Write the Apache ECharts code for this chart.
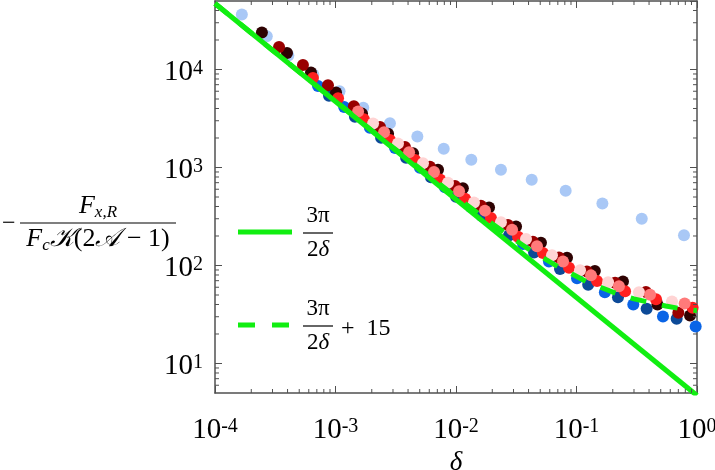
<!DOCTYPE html>
<html>
<head>
<meta charset="utf-8">
<script src="https://cdn.jsdelivr.net/npm/echarts@6/dist/echarts.min.js"></script>
<style>html,body{margin:0;padding:0;background:#fff}#c{width:715px;height:470px}</style>
</head>
<body>
<div id="c"></div>
<script>
// ---- data ----
const X_MIN = 1e-4, X_MAX = 1, Y_MIN = 5, Y_MAX = 5e4;

const lightBlueDelta = [1.67e-4, 2.69e-4, 4.06e-4, 6.54e-4, 1.08e-3, 1.70e-3, 2.83e-3, 4.78e-3, 7.91e-3, 0.0134, 0.0236, 0.0425, 0.0813, 0.164, 0.348, 0.780];
const lightBlueF     = [36400, 21900, 13900, 8890, 6010, 4070, 2830, 2070, 1550, 1200, 948, 749, 578, 429, 300, 204];

const blueDelta = [7.16e-4, 1.18e-3, 1.93e-3, 3.12e-3, 5.02e-3, 8.10e-3, 0.0133, 0.0223, 0.0360, 0.0591, 0.101, 0.172, 0.296, 0.522, 0.975];
const blueF     = [6800, 4150, 2540, 1585, 995, 628, 395, 248, 166, 110, 74, 53.4, 40.0, 30.2, 23.9];

const navyDelta = [8.83e-4, 1.45e-3, 2.39e-3, 3.85e-3, 6.20e-3, 0.0100, 0.0164, 0.0275, 0.0444, 0.0730, 0.125, 0.221, 0.382, 0.678];
const navyF     = [5390, 3290, 2015, 1260, 794, 504, 319, 202, 136, 92, 63.5, 47.5, 36.1, 28.6];

const blackDelta = [2.45e-4, 3.96e-4, 6.26e-4, 1.01e-3, 1.66e-3, 2.73e-3, 4.40e-3, 7.09e-3, 0.0114, 0.0188, 0.0315, 0.0507, 0.0834, 0.142, 0.243, 0.47, 0.875];
const blackF     = [23800, 14700, 9340, 5810, 3546, 2215, 1400, 950, 615, 391, 250, 171, 120, 87.7, 68.6, 40, 30.9];

const darkRedDelta = [3.40e-4, 5.37e-4, 8.66e-4, 1.42e-3, 2.34e-3, 3.77e-3, 6.08e-3, 9.81e-3, 0.0161, 0.0270, 0.0435, 0.0716, 0.122, 0.209, 0.377, 0.70];
const darkRedF     = [17000, 11100, 6920, 4220, 2585, 1617, 1018, 646, 408, 259, 175, 121, 86.7, 66.5, 53.7, 33];

const redDelta = [6.5e-4, 1.05e-3, 1.72e-3, 2.83e-3, 4.57e-3, 7.37e-3, 0.0119, 0.0195, 0.0327, 0.0527, 0.0867, 0.148, 0.253, 0.457, 0.92];
const redF     = [8180, 5090, 3110, 1905, 1194, 753, 480, 305, 196, 134, 94.9, 69.6, 54.7, 45.3, 37];

const pinkDelta = [2.05e-3, 3.30e-3, 5.32e-3, 8.58e-3, 0.0141, 0.0236, 0.0381, 0.0626, 0.107, 0.183, 0.330, 0.620];
const pinkF     = [2815, 1759, 1105, 699, 440, 277, 186, 127, 89.4, 67.4, 53.4, 43];

const salmonDelta = [1.54e-3, 2.53e-3, 4.08e-3, 6.57e-3, 0.0106, 0.0174, 0.0292, 0.0470, 0.0773, 0.132, 0.225, 0.408, 0.79];
const salmonF     = [3734, 2288, 1432, 902, 573, 363, 231, 157, 110, 79.3, 61.5, 50.2, 41];

// 3pi/(2 delta)
const solidDelta = [1e-4, 1];
const solidF     = [47120, 4.71];
// 3pi/(2 delta) + 15 curve as drawn
const dashDelta = [1e-4, 3e-4, 1e-3, 3e-3, 0.01, 0.02, 0.03, 0.0425, 0.0716, 0.123, 0.218, 0.3, 0.407, 0.55, 0.746, 1];
const dashF     = [47150, 15740, 4742, 1600, 501, 266, 187, 140, 96, 67.6, 51.4, 45.7, 41.9, 38.6, 36.1, 34.7];

// minor tick positions
const minorMult = [2, 3, 4, 5, 6, 7, 8, 9];
const xDecades = [1e-4, 1e-3, 1e-2, 1e-1];
const yDecades = [1, 10, 100, 1000, 10000];

// ---- styling ----
const GREEN = '#11ee11';
const AXIS = '#505050';
const SERIF = "'Liberation Serif', 'DejaVu Serif', serif";

const xMinor = [];
xDecades.forEach(d => minorMult.forEach(m => xMinor.push(m * d)));
const yMinor = [];
yDecades.forEach(d => minorMult.forEach(m => { const v = m * d; if (v > Y_MIN && v < Y_MAX) yMinor.push(v); }));

const zip = (a, b) => a.map((v, i) => [v, b[i]]);

const rich = {
  b: { fontFamily: SERIF, fontSize: 29, lineHeight: 34, padding: [6, 0, 0, 0], verticalAlign: 'bottom', color: '#000' },
  s: { fontFamily: SERIF, fontSize: 20, lineHeight: 18, padding: [6, 0, 0, 0], verticalAlign: 'top', color: '#000' }
};
const fmt = v => '{b|10}{s|' + Math.round(Math.log10(v)) + '}';

function scatter(name, d, f, color, z) {
  return { name, type: 'scatter', data: zip(d, f), symbolSize: 12, clip: false, z,
    itemStyle: { color, opacity: 1 }, silent: true };
}

function minorX(params, api) {
  const v = api.value(0);
  const b = api.coord([v, Y_MIN]), t = api.coord([v, Y_MAX]);
  return { type: 'group', children: [
    { type: 'line', shape: { x1: b[0], y1: b[1], x2: b[0], y2: b[1] - 4 }, style: { stroke: AXIS, lineWidth: 1 } },
    { type: 'line', shape: { x1: t[0], y1: t[1], x2: t[0], y2: t[1] + 4 }, style: { stroke: AXIS, lineWidth: 1 } }
  ] };
}
function minorY(params, api) {
  const v = api.value(1);
  const l = api.coord([X_MIN, v]), r = api.coord([X_MAX, v]);
  return { type: 'group', children: [
    { type: 'line', shape: { x1: l[0], y1: l[1], x2: l[0] + 4, y2: l[1] }, style: { stroke: AXIS, lineWidth: 1 } },
    { type: 'line', shape: { x1: r[0], y1: r[1], x2: r[0] - 4, y2: r[1] }, style: { stroke: AXIS, lineWidth: 1 } }
  ] };
}

const axisCommon = {
  type: 'log', logBase: 10,
  axisLine: { show: true, onZero: false, lineStyle: { color: AXIS, width: 1.5 } },
  axisTick: { show: true, inside: true, length: 7, lineStyle: { color: AXIS, width: 1 } },
  minorTick: { show: false },
  splitLine: { show: false }
};

const chart = echarts.init(document.getElementById('c'), null, { renderer: 'canvas' });
chart.setOption({
  animation: false,
  backgroundColor: '#fff',
  grid: { left: 215, right: 18, top: 1, bottom: 77, containLabel: false, outerBoundsMode: 'none' },
  xAxis: [
    Object.assign({}, axisCommon, { position: 'bottom', min: X_MIN, max: X_MAX,
      axisLabel: { show: true, margin: 18, formatter: fmt, rich },
      name: 'δ', nameLocation: 'middle', nameGap: 54,
      nameTextStyle: { fontFamily: SERIF, fontStyle: 'italic', fontSize: 27, color: '#000' } }),
    Object.assign({}, axisCommon, { position: 'top', min: X_MIN, max: X_MAX, axisLabel: { show: false } })
  ],
  yAxis: [
    Object.assign({}, axisCommon, { position: 'left', min: Y_MIN, max: Y_MAX,
      axisLabel: { show: true, margin: 12, formatter: fmt, rich, showMinLabel: false, showMaxLabel: false } }),
    Object.assign({}, axisCommon, { position: 'right', min: Y_MIN, max: Y_MAX, axisLabel: { show: false } })
  ],
  series: [
    { type: 'custom', renderItem: minorX, data: xMinor.map(v => [v, Y_MIN]), clip: false, silent: true, z: 6 },
    { type: 'custom', renderItem: minorY, data: yMinor.map(v => [X_MIN, v]), clip: false, silent: true, z: 6 },
    scatter('lightblue', lightBlueDelta, lightBlueF, '#a9c8f6', 2),
    scatter('blue', blueDelta, blueF, '#0a64e6', 2),
    scatter('navy', navyDelta, navyF, '#0c4a98', 2),
    scatter('black', blackDelta, blackF, '#2e0202', 2),
    scatter('darkred', darkRedDelta, darkRedF, '#990000', 2),
    scatter('red', redDelta, redF, '#ff1f1f', 2),
    scatter('pink', pinkDelta, pinkF, '#ffd4d4', 2),
    scatter('salmon', salmonDelta, salmonF, '#ff7a7a', 2),
    { type: 'line', data: zip(dashDelta, dashF), showSymbol: false, symbol: 'none', clip: true, z: 4, silent: true,
      lineStyle: { color: GREEN, width: 5, type: [16, 16] } },
    { type: 'line', data: zip(solidDelta, solidF), showSymbol: false, symbol: 'none', clip: true, z: 5, silent: true,
      lineStyle: { color: GREEN, width: 5, type: 'solid' } }
  ],
  graphic: [
    // y-axis label: - F_{x,R} / (F_c K (2A - 1))
    { type: 'text', x: 2, y: 224, style: { text: '−', font: '24px ' + SERIF, fill: '#000', align: 'left', verticalAlign: 'middle' } },
    { type: 'line', shape: { x1: 20, y1: 223, x2: 176, y2: 223 }, style: { stroke: '#000', lineWidth: 1.2 } },
    { type: 'text', x: 98, y: 221, style: { text: '{i|F}{s|x,R}', align: 'center', verticalAlign: 'bottom',
      rich: { i: { fontFamily: SERIF, fontStyle: 'italic', fontSize: 26, lineHeight: 28, padding: [0, 0, 5, 0], verticalAlign: 'top' },
              s: { fontFamily: SERIF, fontStyle: 'italic', fontSize: 17, lineHeight: 18, verticalAlign: 'bottom' } } } },
    { type: 'text', x: 98, y: 226, style: { text: '{i|F}{s|c}{i|𝒦}{n|(2}{i|𝒜}{n| − 1)}', align: 'center', verticalAlign: 'top',
      rich: { i: { fontFamily: SERIF, fontStyle: 'italic', fontSize: 26, lineHeight: 28, padding: [0, 0, 5, 0], verticalAlign: 'top' },
              n: { fontFamily: SERIF, fontSize: 26, lineHeight: 28, padding: [0, 0, 5, 0], verticalAlign: 'top' },
              s: { fontFamily: SERIF, fontStyle: 'italic', fontSize: 17, lineHeight: 18, verticalAlign: 'bottom' } } } },
    // legend
    { type: 'line', shape: { x1: 238, y1: 232, x2: 292, y2: 232 }, style: { stroke: GREEN, lineWidth: 5 } },
    { type: 'line', shape: { x1: 238, y1: 325, x2: 290, y2: 325 }, style: { stroke: GREEN, lineWidth: 5, lineDash: [17, 17] } },
    { type: 'text', x: 318, y: 227, style: { text: '3π', font: '23px ' + SERIF, fill: '#000', align: 'center', verticalAlign: 'bottom' } },
    { type: 'line', shape: { x1: 303, y1: 233, x2: 333, y2: 233 }, style: { stroke: '#000', lineWidth: 1.2 } },
    { type: 'text', x: 318, y: 238, style: { text: '{n|2}{i|δ}', align: 'center', verticalAlign: 'top',
      rich: { n: { fontFamily: SERIF, fontSize: 23 }, i: { fontFamily: SERIF, fontStyle: 'italic', fontSize: 23 } } } },
    { type: 'text', x: 318, y: 320, style: { text: '3π', font: '23px ' + SERIF, fill: '#000', align: 'center', verticalAlign: 'bottom' } },
    { type: 'line', shape: { x1: 303, y1: 326, x2: 333, y2: 326 }, style: { stroke: '#000', lineWidth: 1.2 } },
    { type: 'text', x: 318, y: 331, style: { text: '{n|2}{i|δ}', align: 'center', verticalAlign: 'top',
      rich: { n: { fontFamily: SERIF, fontSize: 23 }, i: { fontFamily: SERIF, fontStyle: 'italic', fontSize: 23 } } } },
    { type: 'text', x: 341, y: 329, style: { text: '+  15', font: '24px ' + SERIF, fill: '#000', align: 'left', verticalAlign: 'middle' } }
  ]
});
</script>
</body>
</html>
